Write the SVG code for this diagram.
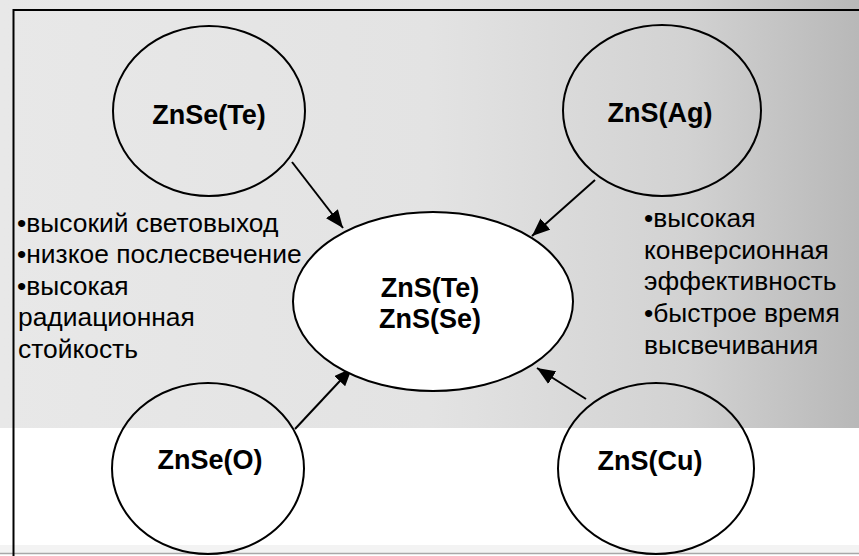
<svg xmlns="http://www.w3.org/2000/svg" width="859" height="556" viewBox="0 0 859 556">
  <defs>
    <linearGradient id="bgGrad" x1="0" y1="0" x2="1" y2="0">
      <stop offset="0" stop-color="#e8e8e8"/>
      <stop offset="0.5" stop-color="#e3e3e3"/>
      <stop offset="0.8" stop-color="#d2d2d2"/>
      <stop offset="1" stop-color="#b8b8b8"/>
    </linearGradient>
    <marker id="arrow" viewBox="0 0 18 15" refX="18" refY="7.5" markerWidth="18" markerHeight="15" markerUnits="userSpaceOnUse" orient="auto">
      <path d="M0,0 L18,7.5 L0,15 Z" fill="#000"/>
    </marker>
  </defs>
  <style>
    .node { fill: none; stroke: #000; stroke-width: 2; }
    .center { fill: #fff; stroke: #000; stroke-width: 2; }
    .label { font-family: "Liberation Sans", Arial, sans-serif; font-weight: bold; font-size: 27px; fill: #000; text-anchor: middle; }
    .note { font-family: "Liberation Sans", Arial, sans-serif; font-size: 26.4px; fill: #000; }
    .conn line { stroke: #000; stroke-width: 2; marker-end: url(#arrow); }
  </style>

  <!-- backdrop -->
  <rect x="0" y="0" width="859" height="428" fill="url(#bgGrad)"/>
  <rect x="0" y="428" width="859" height="117" fill="#fff"/>
  <rect x="0" y="545" width="859" height="8" fill="#f3f3f3"/>
  <line x1="0" y1="553.5" x2="859" y2="553.5" stroke="#a8a8a8" stroke-width="1.5"/>
  <!-- frame -->
  <path d="M13.5,556 V10 H859" fill="none" stroke="#000" stroke-width="2"/>

  <!-- connectors -->
  <g id="connectors" class="conn">
    <line x1="292" y1="162" x2="343" y2="228"/>
    <line x1="595" y1="180" x2="532" y2="236"/>
    <line x1="295" y1="429" x2="352" y2="368"/>
    <line x1="586" y1="399" x2="537" y2="368"/>
  </g>

  <g id="node-znse-te">
    <ellipse class="node" cx="209" cy="111" rx="96" ry="85"/>
    <text class="label" x="209" y="124">ZnSe(Te)</text>
  </g>

  <g id="node-zns-ag">
    <ellipse class="node" cx="662" cy="110.5" rx="99" ry="85.5"/>
    <text class="label" x="660" y="122">ZnS(Ag)</text>
  </g>

  <g id="node-znse-o">
    <ellipse class="node" cx="208" cy="468.5" rx="96" ry="85.5"/>
    <text class="label" x="210" y="469">ZnSe(O)</text>
  </g>

  <g id="node-zns-cu">
    <ellipse class="node" cx="656" cy="468.5" rx="98" ry="85.5"/>
    <text class="label" x="650" y="470">ZnS(Cu)</text>
  </g>

  <g id="node-center">
    <ellipse class="center" cx="433" cy="301.5" rx="140" ry="89.5"/>
    <text class="label" x="430" y="297">ZnS(Te)</text>
    <text class="label" x="430" y="328">ZnS(Se)</text>
  </g>

  <g id="notes-left">
    <text class="note" x="17" y="232">•высокий световыход</text>
    <text class="note" x="17" y="263">•низкое послесвечение</text>
    <text class="note" x="17" y="295">•высокая</text>
    <text class="note" x="18" y="326">радиационная</text>
    <text class="note" x="18" y="358">стойкость</text>
  </g>

  <g id="notes-right">
    <text class="note" x="644" y="227">•высокая</text>
    <text class="note" x="644" y="259">конверсионная</text>
    <text class="note" x="644" y="290">эффективность</text>
    <text class="note" x="644" y="322">•быстрое время</text>
    <text class="note" x="644" y="354">высвечивания</text>
  </g>
</svg>
